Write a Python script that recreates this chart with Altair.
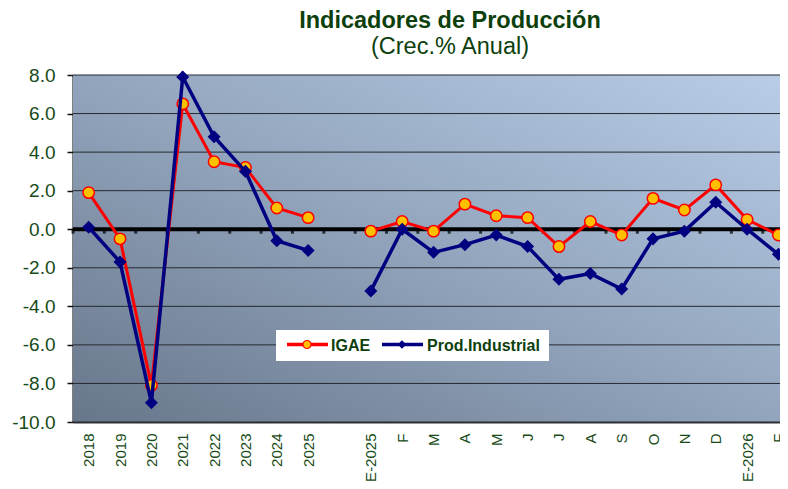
import altair as alt
import pandas as pd

categories = ["2018", "2019", "2020", "2021", "2022", "2023", "2024", "2025", "",
              "E-2025", "F", "M", "A", "M", "J", "J", "A", "S", "O", "N", "D", "E-2026", "F"]
igae_annual = [1.9, -0.5, -8.1, 6.5, 3.5, 3.2, 1.1, 0.6]
ind_annual = [0.1, -1.7, -9.0, 7.9, 4.8, 3.0, -0.6, -1.1]
igae_monthly = [-0.1, 0.4, -0.1, 1.3, 0.7, 0.6, -0.9, 0.4, -0.3, 1.6, 1.0, 2.3, 0.5, -0.3]
ind_monthly = [-3.2, 0.0, -1.2, -0.8, -0.3, -0.9, -2.6, -2.3, -3.1, -0.5, -0.1, 1.4, 0.0, -1.3]
y_ticks = [-10, -8, -6, -4, -2, 0, 2, 4, 6, 8]
series_names = ["IGAE", "Prod.Industrial"]

rows = []
for i, v in enumerate(igae_annual):
    rows.append({"idx": i, "serie": series_names[0], "value": v, "grp": "IGAE-a"})
for i, v in enumerate(ind_annual):
    rows.append({"idx": i, "serie": series_names[1], "value": v, "grp": "IND-a"})
start_m = len(igae_annual) + 1
for i, v in enumerate(igae_monthly):
    rows.append({"idx": start_m + i, "serie": series_names[0], "value": v, "grp": "IGAE-m"})
for i, v in enumerate(ind_monthly):
    rows.append({"idx": start_m + i, "serie": series_names[1], "value": v, "grp": "IND-m"})
df = pd.DataFrame(rows)

n = len(categories)
W, H = 707, 347
x_scale = alt.Scale(domain=[-0.5, n - 0.95], nice=False, zero=False)
y_scale = alt.Scale(domain=[y_ticks[0], y_ticks[-1]], nice=False, zero=False)

GREEN = "#0d3f0d"
LBL = "#174a17"
label_arr = "[" + ",".join("'" + c + "'" for c in categories) + "]"

x_axis = alt.Axis(
    values=[i for i, c in enumerate(categories) if c],
    labelExpr=label_arr + "[datum.value]",
    labelAngle=270, labelAlign="right", labelBaseline="middle",
    labelPadding=11, labelFontSize=15, labelColor=LBL, labelFlush=False,
    labelOverlap=False, ticks=False, grid=False,
    domainColor="#333333", domainWidth=2, title=None,
)
y_axis = alt.Axis(
    values=y_ticks,
    labelExpr="replace(format(datum.value, '.1f'), '\u2212', '-')",
    labelFontSize=19, labelFontWeight="normal", labelColor=LBL, labelPadding=12,
    labelOverlap=False, labelFlush=False,
    tickSize=6, tickColor="#111111", tickWidth=1.5,
    domainColor="#000000", domainWidth=2, grid=False, title=None,
)

one = pd.DataFrame({"a": [0]})

bg = alt.Chart(one).mark_rect(
    color=alt.LinearGradient(
        gradient="linear",
        stops=[alt.GradientStop(offset=0, color="#68768a"),
               alt.GradientStop(offset=0.5, color="#92a5bd"),
               alt.GradientStop(offset=1, color="#b9cde7")],
        x1=0, y1=1, x2=1, y2=0),
).encode(x=alt.value(0), x2=alt.value(W), y=alt.value(0), y2=alt.value(H))

grid = alt.Chart(pd.DataFrame({"v": y_ticks})).mark_rule(
    color="#262a30", strokeWidth=1
).encode(y=alt.Y("v:Q", scale=y_scale, axis=y_axis))

zero = alt.Chart(one).mark_rule(color="#000000", strokeWidth=4).encode(
    y=alt.datum(0, scale=y_scale, axis=y_axis))

bounds = pd.DataFrame({"b": [i - 0.5 for i in range(n)]})
ticks = alt.Chart(bounds).mark_tick(
    orient="vertical", size=5, thickness=3, color="#000000", yOffset=2
).encode(x=alt.X("b:Q", scale=x_scale, axis=x_axis),
         y=alt.datum(0, scale=y_scale, axis=y_axis))

base = alt.Chart(df).encode(
    x=alt.X("idx:Q", scale=x_scale, axis=x_axis),
    y=alt.Y("value:Q", scale=y_scale, axis=y_axis),
    detail="grp:N",
)
red_line = base.transform_filter(alt.datum.serie == series_names[0]).mark_line(
    color="#ff0000", strokeWidth=3)
red_pts = base.transform_filter(alt.datum.serie == series_names[0]).mark_point(
    shape="circle", filled=True, fill="#ffc000", stroke="#ff0000", strokeWidth=1.5,
    size=130, opacity=1)
blue_line = base.transform_filter(alt.datum.serie == series_names[1]).mark_line(
    color="#000080", strokeWidth=3.5)
blue_pts = base.transform_filter(alt.datum.serie == series_names[1]).mark_point(
    shape="diamond", filled=True, color="#000080", size=170, opacity=1)

# legend
leg_box = alt.Chart(one).mark_rect(fill="#ffffff").encode(
    x=alt.value(203), x2=alt.value(476), y=alt.value(255), y2=alt.value(286))
leg_l1 = alt.Chart(one).mark_rule(color="#ff0000", strokeWidth=3.5).encode(
    x=alt.value(214), x2=alt.value(255), y=alt.value(269.5))
leg_p1 = alt.Chart(one).mark_point(
    shape="circle", filled=True, fill="#ffc000", stroke="#ff0000", strokeWidth=1.2,
    size=64, opacity=1).encode(x=alt.value(234), y=alt.value(269.5))
leg_t1 = alt.Chart(one).mark_text(
    align="left", baseline="middle", fontSize=16, fontWeight="bold", color=GREEN
).encode(x=alt.value(258), y=alt.value(270.5), text=alt.value(series_names[0]))
leg_l2 = alt.Chart(one).mark_rule(color="#000080", strokeWidth=3.5).encode(
    x=alt.value(309), x2=alt.value(350), y=alt.value(269.5))
leg_p2 = alt.Chart(one).mark_point(
    shape="diamond", filled=True, color="#000080", size=70, opacity=1).encode(
    x=alt.value(329), y=alt.value(269.5))
leg_t2 = alt.Chart(one).mark_text(
    align="left", baseline="middle", fontSize=16, fontWeight="bold", color=GREEN
).encode(x=alt.value(354), y=alt.value(270.5), text=alt.value(series_names[1]))

chart = alt.layer(
    bg, grid, zero, ticks, red_line, red_pts, blue_line, blue_pts,
    leg_box, leg_l1, leg_p1, leg_t1, leg_l2, leg_p2, leg_t2,
).properties(
    width=W, height=H,
    title=alt.Title(
        "Indicadores de Producción", subtitle="(Crec.% Anual)",
        fontSize=23.5, fontWeight="bold", color=GREEN,
        subtitleFontSize=23.5, subtitleColor=GREEN, subtitleFontWeight="normal",
        subtitlePadding=2, anchor="middle", dx=23.5, offset=8,
    ),
    padding={"left": 65, "top": 67, "right": 0, "bottom": 59},
    autosize=alt.AutoSizeParams(type="none"),
).configure(
    font="Liberation Sans", background="#ffffff"
).configure_axis(
    labelOverlap=False
).configure_view(stroke=None)

chart.save("out.html", embed_options={"renderer": "svg", "actions": False})
